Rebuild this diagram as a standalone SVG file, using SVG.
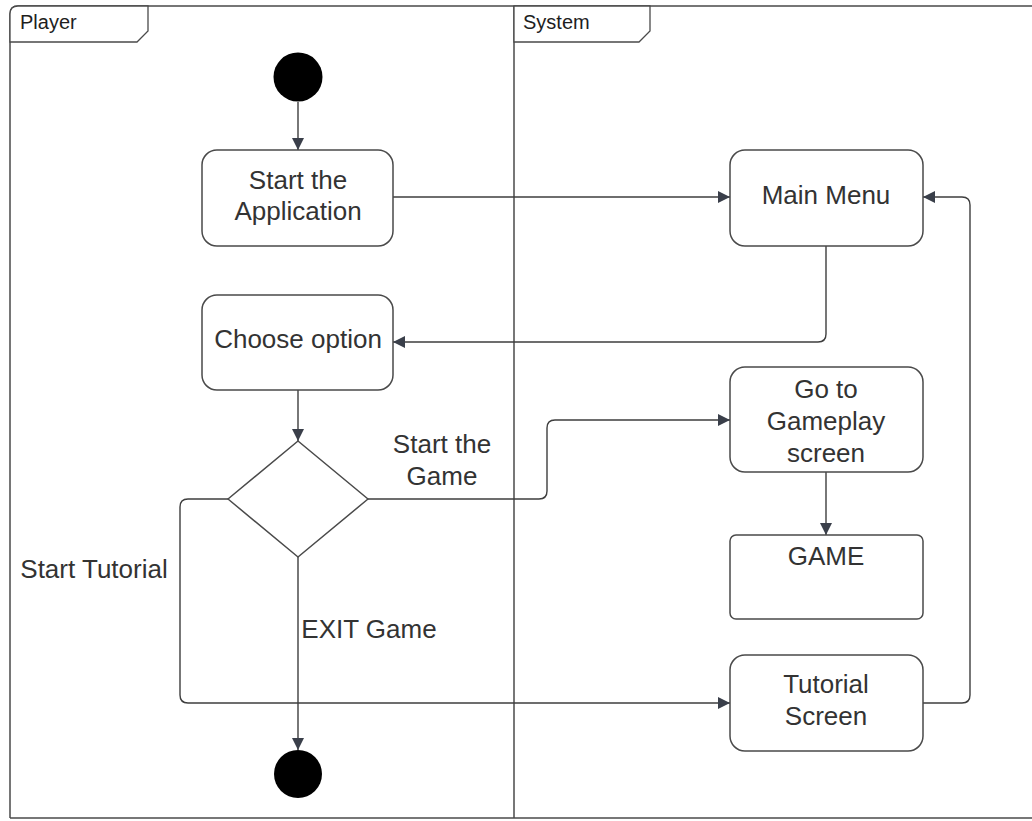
<svg xmlns="http://www.w3.org/2000/svg" width="1032" height="821" viewBox="0 0 1032 821">
  <defs>
    <marker id="arrow" viewBox="0 0 12 12" refX="12" refY="6" markerWidth="12" markerHeight="12" markerUnits="userSpaceOnUse" orient="auto">
      <path d="M0,0 L12,6 L0,12 Z" fill="#3a3f4a"/>
    </marker>
    <style>
      .lane { fill: none; stroke: #4a4a4a; stroke-width: 1.5; }
      .tab { fill: #ffffff; stroke: #4a4a4a; stroke-width: 1.3; }
      .lanetitle { font-family: "Liberation Sans", Arial, sans-serif; font-size: 20px; fill: #1e1e1e; }
      .box { fill: #ffffff; stroke: #4a4a4a; stroke-width: 1.5; }
      .label { font-family: "Liberation Sans", Arial, sans-serif; font-size: 26px; fill: #333333; text-anchor: middle; }
      .edge { fill: none; stroke: #3e3e3e; stroke-width: 1.4; }
      .dot { fill: #000000; }
    </style>
  </defs>

  <!-- swimlane frame -->
  <g id="lanes">
    <path class="lane" d="M10,818 L10,14 Q10,6 18,6 L1040,6"/>
    <path class="lane" d="M514,6 L514,818"/>
    <path class="lane" d="M10,818 L1040,818" stroke="#c4c4c4"/>
  </g>
  <g id="lane-player">
    <path class="tab" d="M10,42 L10,14 Q10,6 18,6 L148,6 L148,31 L137,42 Z"/>
    <text class="lanetitle" x="20" y="29">Player</text>
  </g>
  <g id="lane-system">
    <path class="tab" d="M514,42 L514,6 L650,6 L650,31 L639,42 Z"/>
    <text class="lanetitle" x="523" y="29">System</text>
  </g>

  <!-- connectors -->
  <g id="connectors">
    <path class="edge" d="M298,102 L298,150" marker-end="url(#arrow)"/>
    <path class="edge" d="M393,197 L730,197" marker-end="url(#arrow)"/>
    <path class="edge" d="M826,246 L826,334 Q826,342 818,342 L393,342" marker-end="url(#arrow)"/>
    <path class="edge" d="M298,390 L298,441" marker-end="url(#arrow)"/>
    <path class="edge" d="M368,499 L539,499 Q547,499 547,491 L547,428 Q547,420 555,420 L730,420" marker-end="url(#arrow)"/>
    <path class="edge" d="M826,472 L826,535" marker-end="url(#arrow)"/>
    <path class="edge" d="M228,499 L188,499 Q180,499 180,507 L180,695 Q180,703 188,703 L730,703" marker-end="url(#arrow)"/>
    <path class="edge" d="M923,703 L962,703 Q970,703 970,695 L970,205 Q970,197 962,197 L923,197" marker-end="url(#arrow)"/>
    <path class="edge" d="M298,557 L298,750" marker-end="url(#arrow)"/>
    <text class="label" x="442" y="453">Start the</text>
    <text class="label" x="442" y="485">Game</text>
    <text class="label" x="94" y="578">Start Tutorial</text>
    <text class="label" x="369" y="638">EXIT Game</text>
  </g>

  <!-- nodes -->
  <g id="start">
    <circle class="dot" cx="298" cy="77" r="24.5"/>
  </g>
  <g id="start-application">
    <rect class="box" x="202" y="150" width="191" height="96" rx="15"/>
    <text class="label" x="298" y="189">Start the</text>
    <text class="label" x="298" y="220">Application</text>
  </g>
  <g id="main-menu">
    <rect class="box" x="730" y="150" width="193" height="96" rx="15"/>
    <text class="label" x="826" y="204">Main Menu</text>
  </g>
  <g id="choose-option">
    <rect class="box" x="202" y="295" width="191" height="95" rx="15"/>
    <text class="label" x="298" y="348">Choose option</text>
  </g>
  <g id="decision">
    <path class="box" d="M298,441 L368,499 L298,557 L228,499 Z" stroke-linejoin="round"/>
  </g>
  <g id="gameplay-screen">
    <rect class="box" x="730" y="367" width="193" height="105" rx="15"/>
    <text class="label" x="826" y="398">Go to</text>
    <text class="label" x="826" y="430">Gameplay</text>
    <text class="label" x="826" y="462">screen</text>
  </g>
  <g id="game">
    <rect class="box" x="730" y="535" width="193" height="84" rx="6"/>
    <text class="label" x="826" y="565">GAME</text>
  </g>
  <g id="tutorial-screen">
    <rect class="box" x="730" y="655" width="193" height="96" rx="15"/>
    <text class="label" x="826" y="693">Tutorial</text>
    <text class="label" x="826" y="725">Screen</text>
  </g>
  <g id="end">
    <circle class="dot" cx="298" cy="774" r="24"/>
  </g>
</svg>
